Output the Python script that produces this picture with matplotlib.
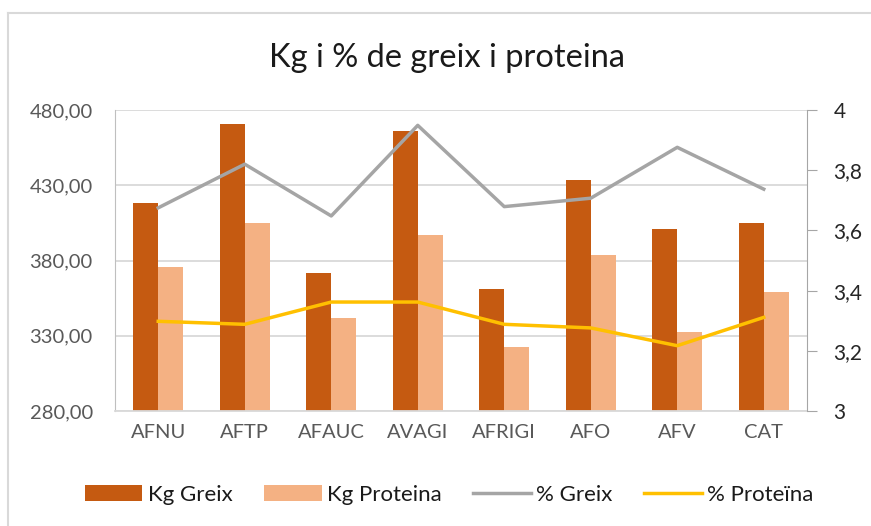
import matplotlib
matplotlib.use("Agg")
import matplotlib.pyplot as plt
import numpy as np
from matplotlib.ticker import FuncFormatter, FixedLocator
from matplotlib.lines import Line2D

categories = ["AFNU", "AFTP", "AFAUC", "AVAGI", "AFRIGI", "AFO", "AFV", "CAT"]
kg_greix = [418.4, 470.5, 371.5, 466.2, 360.9, 433.5, 400.9, 405.1]
kg_proteina = [375.7, 405.1, 341.6, 396.7, 322.3, 383.4, 332.3, 359.1]
pct_greix = [3.675, 3.820, 3.648, 3.949, 3.679, 3.707, 3.876, 3.737]
pct_proteina = [3.298, 3.288, 3.362, 3.362, 3.288, 3.276, 3.217, 3.311]

plt.rcParams['font.family'] = ['Lato', 'DejaVu Sans']

W, H = 871, 526
fig = plt.figure(figsize=(W/100, H/100), dpi=100)
# chart frame: only top and left edges visible in the crop
fig.lines.append(Line2D([8/W, 8/W], [0, 1 - 13/H], transform=fig.transFigure,
                        color='#d9d9d9', linewidth=1.5))
fig.lines.append(Line2D([8/W, 1], [1 - 13/H, 1 - 13/H], transform=fig.transFigure,
                        color='#d9d9d9', linewidth=1.5))

ax = fig.add_axes([115/W, 1 - 411/H, (807-115)/W, (411-110)/H])
ax2 = ax.twinx()

x = np.arange(len(categories))
bw = 0.29
ax.bar(x - bw/2, kg_greix, bw, color='#C55A11', label='Kg Greix', zorder=2)
ax.bar(x + bw/2, kg_proteina, bw, color='#F4B183', label='Kg Proteina', zorder=2)
ax.set_xlim(-0.5, len(categories) - 0.5)
ax.set_ylim(280, 480)
ax.yaxis.set_major_locator(FixedLocator([280, 330, 380, 430, 480]))
ax.yaxis.set_major_formatter(FuncFormatter(lambda v, p: f"{v:.2f}".replace('.', ',')))
ax.grid(axis='y', color='#d9d9d9', linewidth=1.3, zorder=0)
ax.set_axisbelow(True)
ax.set_xticks(x)
ax.set_xticklabels(categories, fontsize=14.5, color='#595959')
ax.tick_params(axis='x', length=0, pad=9)
ax.tick_params(axis='y', length=0, labelsize=14.5, labelcolor='#595959', pad=16)
for s in ['top', 'right']:
    ax.spines[s].set_visible(False)
ax.spines['left'].set_color('#bfbfbf')
ax.spines['bottom'].set_color('#d9d9d9')
ax.spines['bottom'].set_linewidth(1.3)

ax2.plot(x, pct_greix, color='#A5A5A5', linewidth=2.5, label='% Greix')
ax2.plot(x, pct_proteina, color='#FFC000', linewidth=2.5, label='% Proteïna')
ax2.set_ylim(3, 4)
ax2.yaxis.set_major_locator(FixedLocator([3, 3.2, 3.4, 3.6, 3.8, 4]))
ax2.yaxis.set_major_formatter(FuncFormatter(lambda v, p: (f"{v:.1f}".rstrip('0').rstrip('.')).replace('.', ',')))
ax2.tick_params(axis='y', length=7, color='#a6a6a6', labelsize=15, labelcolor='#262626', pad=12)
for s in ['top', 'left', 'bottom']:
    ax2.spines[s].set_visible(False)
ax2.spines['right'].set_color('#a6a6a6')

fig.text(447/W, 1 - 58/H, "Kg i % de greix i proteina", ha='center', va='center',
         fontsize=23.5, color='#1a1a1a')

h1, lb1 = ax.get_legend_handles_labels()
h2, lb2 = ax2.get_legend_handles_labels()
fig.legend(h1 + h2, lb1 + lb2, loc='center', bbox_to_anchor=(449/W, 1 - 495/H), ncol=4,
           frameon=False, fontsize=16, handlelength=2.6, handleheight=0.75,
           handletextpad=0.25, columnspacing=1.4, labelcolor='#1a1a1a')

fig.savefig('out.png', dpi=100)
